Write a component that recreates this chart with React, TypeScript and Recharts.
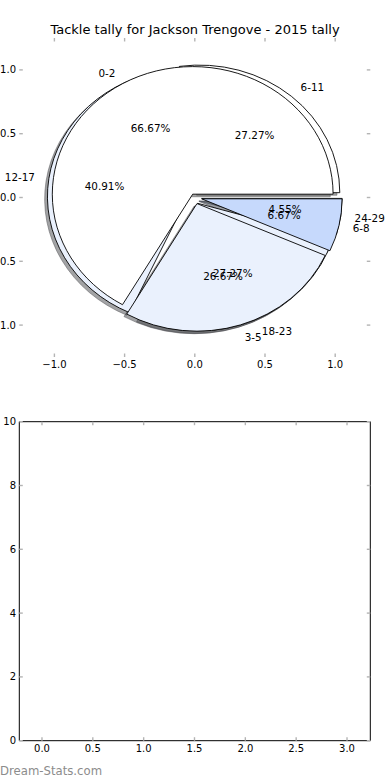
import React from "react";
import { Cell, Pie, PieChart, ScatterChart, XAxis, YAxis } from "recharts";

// 2015 tackle tally, two pies drawn on the same axes
const bandsA = ["6-11", "12-17", "18-23", "24-29"];
const tacklesA = [6, 9, 6, 1];
const bandsB = ["0-2", "3-5", "6-8"];
const tacklesB = [10, 4, 1];

const pieTicks = [-1, -0.5, 0, 0.5, 1];
const emptyXTicks = [0, 0.5, 1, 1.5, 2, 2.5, 3];
const emptyYTicks = [0, 2, 4, 6, 8, 10];

const TITLE = "Tackle tally for Jackson Trengove - 2015 tally";
const WATERMARK = "Dream-Stats.com";

const colorsA = ["#ffffff", "#eaf1fd", "#eaf1fd", "#c6d9fc"];
const colorsB = ["#ffffff", "#eaf1fd", "#c6d9fc"];
const explodeA = [0.05, 0.05, 0.05, 0.05];
const explodeB = [0.03, 0.05, 0.05];

const rowsA = bandsA.map((name, i) => ({ name, value: tacklesA[i] }));
const rowsB = bandsB.map((name, i) => ({ name, value: tacklesB[i] }));

// plot boxes (matplotlib subplots)
const W = 390;
const PLOT_L = 19.3;
const PLOT_R = 370.3;
const TOP_T = 38;
const TOP_B = 357;
const RX = (PLOT_R - PLOT_L) / 2.5;
const RY = (TOP_B - TOP_T) / 2.5;
const CX = PLOT_L + 1.25 * RX;
const CY = TOP_T + 1.25 * RY;
const SQUASH = RY / RX;
const RAD = Math.PI / 180;

const FONT = "DejaVu Sans";
const TICK_GRAY = "#b4b4b4";
const tickStyle = { fill: "#000", fontSize: 10, fontFamily: FONT };
const fmt1 = (v: number) => (v < 0 ? "\u2212" : "") + Math.abs(v).toFixed(1);
const blank = () => "";

function shade(hex: string) {
  const n = parseInt(hex.slice(1), 16);
  const r = Math.round(((n >> 16) & 255) * 0.3);
  const g = Math.round(((n >> 8) & 255) * 0.3);
  const b = Math.round((n & 255) * 0.3);
  return `rgba(${r},${g},${b},0.5)`;
}

function makeWedge(names: string[], explode: number[], shadow: boolean) {
  return (p: any) => {
    const i = names.indexOf(p.name ?? p.payload?.name);
    const e = explode[i] ?? 0;
    const rx = p.outerRadius;
    const ry = p.outerRadius * SQUASH;
    const mid = ((p.startAngle + p.endAngle) / 2) * RAD;
    const ox = shadow ? -0.02 * rx : 0;
    const oy = shadow ? 0.02 * ry : 0;
    const x0 = p.cx + e * rx * Math.cos(mid) + ox;
    const y0 = p.cy - e * ry * Math.sin(mid) + oy;
    const s = p.startAngle * RAD;
    const t = p.endAngle * RAD;
    const x1 = x0 + rx * Math.cos(s);
    const y1 = y0 - ry * Math.sin(s);
    const x2 = x0 + rx * Math.cos(t);
    const y2 = y0 - ry * Math.sin(t);
    const large = p.endAngle - p.startAngle > 180 ? 1 : 0;
    const d = `M${x0},${y0}L${x1},${y1}A${rx},${ry} 0 ${large} 0 ${x2},${y2}Z`;
    const fill = shadow ? shade(p.fill) : p.fill;
    return <path d={d} fill={fill} stroke={shadow ? fill : "#000"} strokeWidth={0.9} />;
  };
}

function makeLabels(names: string[], explode: number[]) {
  return (p: any) => {
    const i = names.indexOf(p.name);
    const e = explode[i] ?? 0;
    const rx = p.outerRadius;
    const ry = rx * SQUASH;
    const m = p.midAngle * RAD;
    const c = Math.cos(m);
    const s = Math.sin(m);
    const bx = p.cx + e * rx * c;
    const by = p.cy - e * ry * s;
    return (
      <g>
        <text
          x={bx + 1.1 * rx * c}
          y={by - 1.1 * ry * s}
          textAnchor={c > 0 ? "start" : "end"}
          dominantBaseline="central"
          fill="#000"
          fontSize={10.4}
          fontFamily={FONT}
        >
          {p.name}
        </text>
        <text
          x={bx + 0.6 * rx * c}
          y={by - 0.6 * ry * s}
          textAnchor="middle"
          dominantBaseline="central"
          fill="#000"
          fontSize={10.4}
          fontFamily={FONT}
        >
          {(p.percent * 100).toFixed(2)}%
        </text>
      </g>
    );
  };
}

function Frame({
  top,
  height,
  plotTop,
  plotBottom,
  xDomain,
  yDomain,
  xTicks,
  yTicks,
  yFmt,
  spines,
}: any) {
  const lineStyle = spines ? { stroke: "#000", strokeWidth: 1 } : false;
  const tl = { stroke: TICK_GRAY, strokeWidth: 1.4 };
  return (
    <div style={{ position: "absolute", left: 0, top }}>
      <ScatterChart width={W} height={height} margin={{ top: 0, right: 0, bottom: 0, left: 0 }}>
        <XAxis
          dataKey="x"
          type="number"
          orientation="bottom"
          domain={xDomain}
          ticks={xTicks}
          interval={0}
          allowDataOverflow
          height={height - plotBottom}
          axisLine={lineStyle}
          stroke="#000"
          tickLine={tl}
          tickSize={-3.5}
          tickMargin={7.25}
          tick={tickStyle}
          tickFormatter={fmt1}
        />
        <XAxis
          xAxisId="top"
          dataKey="x"
          type="number"
          orientation="top"
          domain={xDomain}
          ticks={xTicks}
          interval={0}
          allowDataOverflow
          height={plotTop}
          axisLine={lineStyle}
          stroke="#000"
          tickLine={tl}
          tickSize={-3.5}
          tick={tickStyle}
          tickFormatter={blank}
        />
        <YAxis
          dataKey="y"
          type="number"
          orientation="left"
          domain={yDomain}
          ticks={yTicks}
          interval={0}
          allowDataOverflow
          width={PLOT_L}
          axisLine={lineStyle}
          stroke="#000"
          tickLine={tl}
          tickSize={-3.5}
          tickMargin={6.8}
          tick={tickStyle}
          tickFormatter={yFmt}
        />
        <YAxis
          yAxisId="right"
          dataKey="y"
          type="number"
          orientation="right"
          domain={yDomain}
          ticks={yTicks}
          interval={0}
          allowDataOverflow
          width={W - PLOT_R}
          axisLine={lineStyle}
          stroke="#000"
          tickLine={tl}
          tickSize={-3.5}
          tick={tickStyle}
          tickFormatter={blank}
        />
      </ScatterChart>
    </div>
  );
}

export default function App() {
  const pieCommon = {
    dataKey: "value",
    cx: CX,
    cy: CY,
    outerRadius: RX,
    startAngle: 0,
    endAngle: 360,
    isAnimationActive: false,
    labelLine: false,
  };
  return (
    <div style={{ position: "absolute", left: 0, top: 0, width: W, height: 780, background: "#fff" }}>
      <Frame
        top={0}
        height={380}
        plotTop={TOP_T}
        plotBottom={TOP_B}
        xDomain={[-1.25, 1.25]}
        yDomain={[-1.25, 1.25]}
        xTicks={pieTicks}
        yTicks={pieTicks}
        yFmt={fmt1}
        spines={false}
      />
      <div style={{ position: "absolute", left: 0, top: 0 }}>
        <PieChart width={W} height={380} margin={{ top: 0, right: 0, bottom: 0, left: 0 }}>
          <Pie {...pieCommon} data={rowsA} shape={makeWedge(bandsA, explodeA, true)} activeShape={makeWedge(bandsA, explodeA, true)}>
            {rowsA.map((r, i) => (
              <Cell key={r.name} fill={colorsA[i]} />
            ))}
          </Pie>
          <Pie {...pieCommon} data={rowsB} shape={makeWedge(bandsB, explodeB, true)} activeShape={makeWedge(bandsB, explodeB, true)}>
            {rowsB.map((r, i) => (
              <Cell key={r.name} fill={colorsB[i]} />
            ))}
          </Pie>
          <Pie {...pieCommon} data={rowsA} shape={makeWedge(bandsA, explodeA, false)} activeShape={makeWedge(bandsA, explodeA, false)}>
            {rowsA.map((r, i) => (
              <Cell key={r.name} fill={colorsA[i]} />
            ))}
          </Pie>
          <Pie {...pieCommon} data={rowsB} shape={makeWedge(bandsB, explodeB, false)} activeShape={makeWedge(bandsB, explodeB, false)}>
            {rowsB.map((r, i) => (
              <Cell key={r.name} fill={colorsB[i]} />
            ))}
          </Pie>
          <Pie {...pieCommon} data={rowsA} fill="none" stroke="none" label={makeLabels(bandsA, explodeA)} />
          <Pie {...pieCommon} data={rowsB} fill="none" stroke="none" label={makeLabels(bandsB, explodeB)} />
        </PieChart>
      </div>
      <Frame
        top={380}
        height={400}
        plotTop={421.7 - 380}
        plotBottom={740.7 - 380}
        xDomain={[-0.223, 3.229]}
        yDomain={[0, 10]}
        xTicks={emptyXTicks}
        yTicks={emptyYTicks}
        yFmt={(v: number) => String(v)}
        spines={true}
      />
      <svg width={W} height={780} style={{ position: "absolute", left: 0, top: 0, pointerEvents: "none" }}>
        <text x={195} y={29.5} textAnchor="middle" dominantBaseline="central" fontSize={13} fontFamily={FONT} fill="#000">
          {TITLE}
        </text>
        <text x={0} y={771} dominantBaseline="central" fontSize={11.7} fontFamily={FONT} fill="#8c8c8c">
          {WATERMARK}
        </text>
      </svg>
    </div>
  );
}
